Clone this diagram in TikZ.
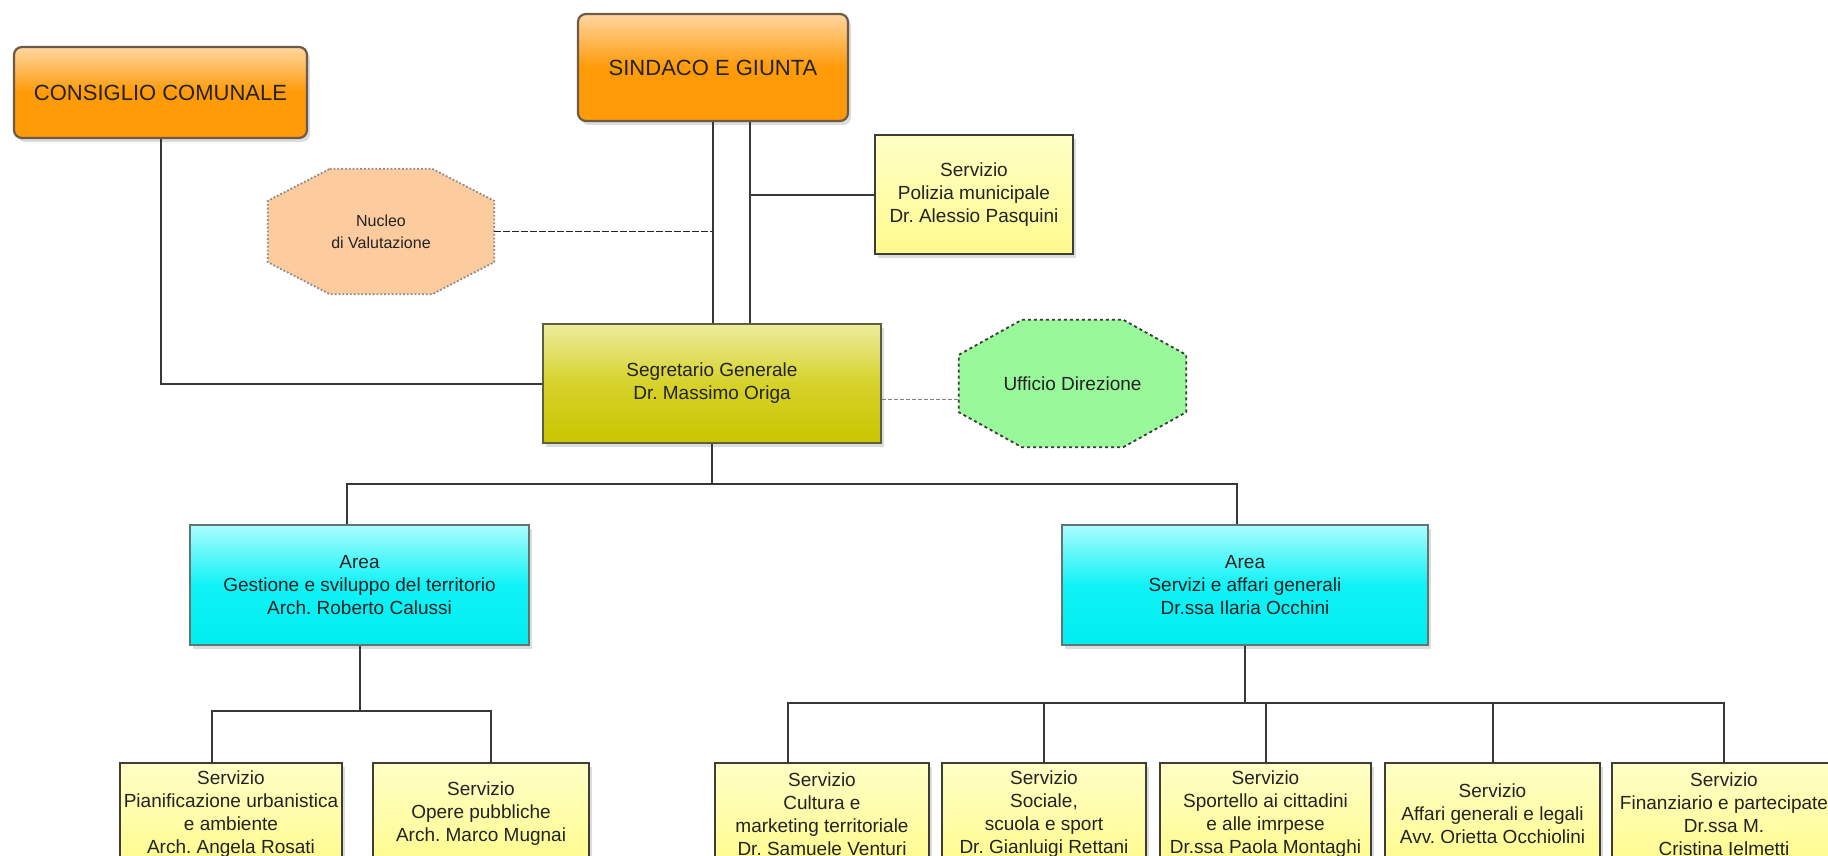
\documentclass[tikz,border=0pt]{standalone}
\usepackage{fontspec}
\setmainfont{Liberation Sans}
\usetikzlibrary{calc,shadows}
\definecolor{orTop}{HTML}{FFD6A0}
\definecolor{orBot}{HTML}{FF9A08}
\definecolor{orBorder}{HTML}{6E5A48}
\definecolor{segTop}{HTML}{ECEC9C}
\definecolor{segMid}{HTML}{D6D22A}
\definecolor{segBot}{HTML}{C9C500}
\definecolor{segBorder}{HTML}{5E5E44}
\definecolor{arTop}{HTML}{AAFDFF}
\definecolor{arMid}{HTML}{10F2F6}
\definecolor{arBot}{HTML}{00EEF0}
\definecolor{arBorder}{HTML}{637474}
\definecolor{svTop}{HTML}{FFFFC6}
\definecolor{svBot}{HTML}{FFFB8E}
\definecolor{svBorder}{HTML}{3E3E36}
\definecolor{nucFill}{HTML}{FCCB9E}
\definecolor{nucBorder}{HTML}{8A8A8A}
\definecolor{uffFill}{HTML}{98F89A}
\definecolor{uffBorder}{HTML}{3A3A3A}
\definecolor{lineC}{HTML}{383838}
\definecolor{txt}{HTML}{232323}
\pgfdeclarelayer{bg}\pgfsetlayers{bg,main}
\frenchspacing
\newcommand{\myocta}[4]{%
  \path[#4] ($(#1.north west)+(#2,0)$) -- ($(#1.north east)+(-#2,0)$)
    -- ($(#1.north east)+(0,#3)$) -- ($(#1.south east)+(0,-#3)$)
    -- ($(#1.south east)+(-#2,0)$) -- ($(#1.south west)+(#2,0)$)
    -- ($(#1.south west)+(0,-#3)$) -- ($(#1.north west)+(0,#3)$) -- cycle;}
\begin{document}
\begin{tikzpicture}[x=1pt,y=-1pt,
  base/.style={rectangle, inner sep=0pt, align=center, text=txt,
    font={\fontsize{19}{23}\selectfont}},
  shad/.style={drop shadow={shadow xshift=3pt, shadow yshift=-4pt, opacity=.28}},
  titlebox/.style={base, shad, rounded corners=8pt, draw=orBorder, line width=2.2pt,
    top color=orTop, bottom color=orBot, middle color=orBot,
    font={\fontsize{22}{26}\selectfont}},
  segbox/.style={base, shad, draw=segBorder, line width=2pt,
    top color=segTop, bottom color=segBot, middle color=segMid},
  areabox/.style={base, shad, draw=arBorder, line width=2pt,
    top color=arTop, bottom color=arBot, middle color=arMid},
  servbox/.style={base, shad, draw=svBorder, line width=1.8pt,
    top color=svTop, bottom color=svBot},
  octnode/.style={base, draw=none, fill=none},
  conn/.style={draw=lineC, line width=2pt},
  dconn/.style={draw=black!85, line width=1.8pt, dash pattern=on 7pt off 2pt},
  gconn/.style={draw=black!50, line width=1.8pt, dash pattern=on 4pt off 2pt}
]
\useasboundingbox (0,0) rectangle (1828,856);
\clip (0,0) rectangle (1828,856);

% top level
\node[titlebox, minimum width=293pt, minimum height=91pt] (cons) at (160.5,92.5) {CONSIGLIO COMUNALE};
\node[titlebox, minimum width=270pt, minimum height=107pt] (sind) at (713,67.5) {SINDACO E GIUNTA};
\node[servbox, minimum width=198pt, minimum height=119pt] (pol) at (974,194.5) {Servizio\\Polizia municipale\\Dr. Alessio Pasquini};
\node[octnode, minimum width=226pt, minimum height=125pt, font={\fontsize{16}{22}\selectfont}] (nuc) at (381,231.5) {Nucleo\\di Valutazione};
\node[segbox, minimum width=338pt, minimum height=119pt] (seg) at (712,383.5) {Segretario Generale\\Dr. Massimo Origa};
\node[octnode, minimum width=227pt, minimum height=127pt] (uff) at (1072.5,383.5) {Ufficio Direzione};

\begin{pgfonlayer}{bg}
\myocta{nuc}{62}{32}{fill=nucFill, draw=nucBorder, line width=1.8pt, dotted}
\myocta{uff}{63}{35}{fill=uffFill, draw=uffBorder, line width=1.8pt, dashed}
\end{pgfonlayer}

% areas
\node[areabox, minimum width=339pt, minimum height=120pt] (areaL) at (359.5,585) {Area\\Gestione e sviluppo del territorio\\Arch. Roberto Calussi};
\node[areabox, minimum width=366pt, minimum height=120pt] (areaR) at (1245,585) {Area\\Servizi e affari generali\\Dr.ssa Ilaria Occhini};

% services
\node[servbox, minimum width=222pt, minimum height=102pt] (pian) at (231,814) {Servizio\\Pianificazione urbanistica\\e ambiente\\Arch. Angela Rosati};
\node[servbox, minimum width=216pt, minimum height=102pt] (oper) at (481,814) {Servizio\\Opere pubbliche\\Arch. Marco Mugnai};
\node[servbox, minimum width=214pt, minimum height=102pt] (cult) at (822,814) {Servizio\\Cultura e\\marketing territoriale\\Dr. Samuele Venturi};
\node[servbox, minimum width=204pt, minimum height=102pt] (soc) at (1044,814) {Servizio\\Sociale,\\scuola e sport\\Dr. Gianluigi Rettani};
\node[servbox, minimum width=211pt, minimum height=102pt] (sport) at (1265.5,814) {Servizio\\Sportello ai cittadini\\e alle imrpese\\Dr.ssa Paola Montaghi};
\node[servbox, minimum width=215pt, minimum height=102pt] (aff) at (1492.5,814) {Servizio\\Affari generali e legali\\Avv. Orietta Occhiolini};
\node[servbox, minimum width=224pt, minimum height=102pt] (fin) at (1724,814) {Servizio\\Finanziario e partecipate\\Dr.ssa M.\\Cristina Ielmetti};

% connectors
\draw[conn] (cons.south) |- (seg.west);
\draw[conn] (sind.south) -- (sind.south |- seg.north);
\coordinate (s2) at ($(sind.south)+(37,0)$);
\draw[conn] (s2) -- (s2 |- seg.north);
\draw[conn] (s2 |- pol.west) -- (pol.west);
\draw[dconn] (nuc.east) -- (nuc.east -| sind.south);
\coordinate (se) at ($(seg.east)+(0,16)$);
\draw[gconn] (se) -- (se -| uff.west);

\draw[conn] (seg.south) -- ++(0,39.5) coordinate (b1);
\draw[conn] ($(areaL.north)+(-13,0)$) |- (b1) -| ($(areaR.north)+(-8,0)$);

\draw[conn] (areaL.south) -- ++(0,65) coordinate (b2);
\draw[conn] ($(pian.north)+(-19,0)$) |- (b2) -| ($(oper.north)+(10,0)$);

\draw[conn] (areaR.south) -- ++(0,57) coordinate (b3);
\draw[conn] ($(cult.north)+(-34,0)$) |- (b3) -| (fin.north);
\draw[conn] (soc.north) -- (soc.north |- b3);
\draw[conn] (sport.north) -- (sport.north |- b3);
\draw[conn] (aff.north) -- (aff.north |- b3);
\end{tikzpicture}
\end{document}
